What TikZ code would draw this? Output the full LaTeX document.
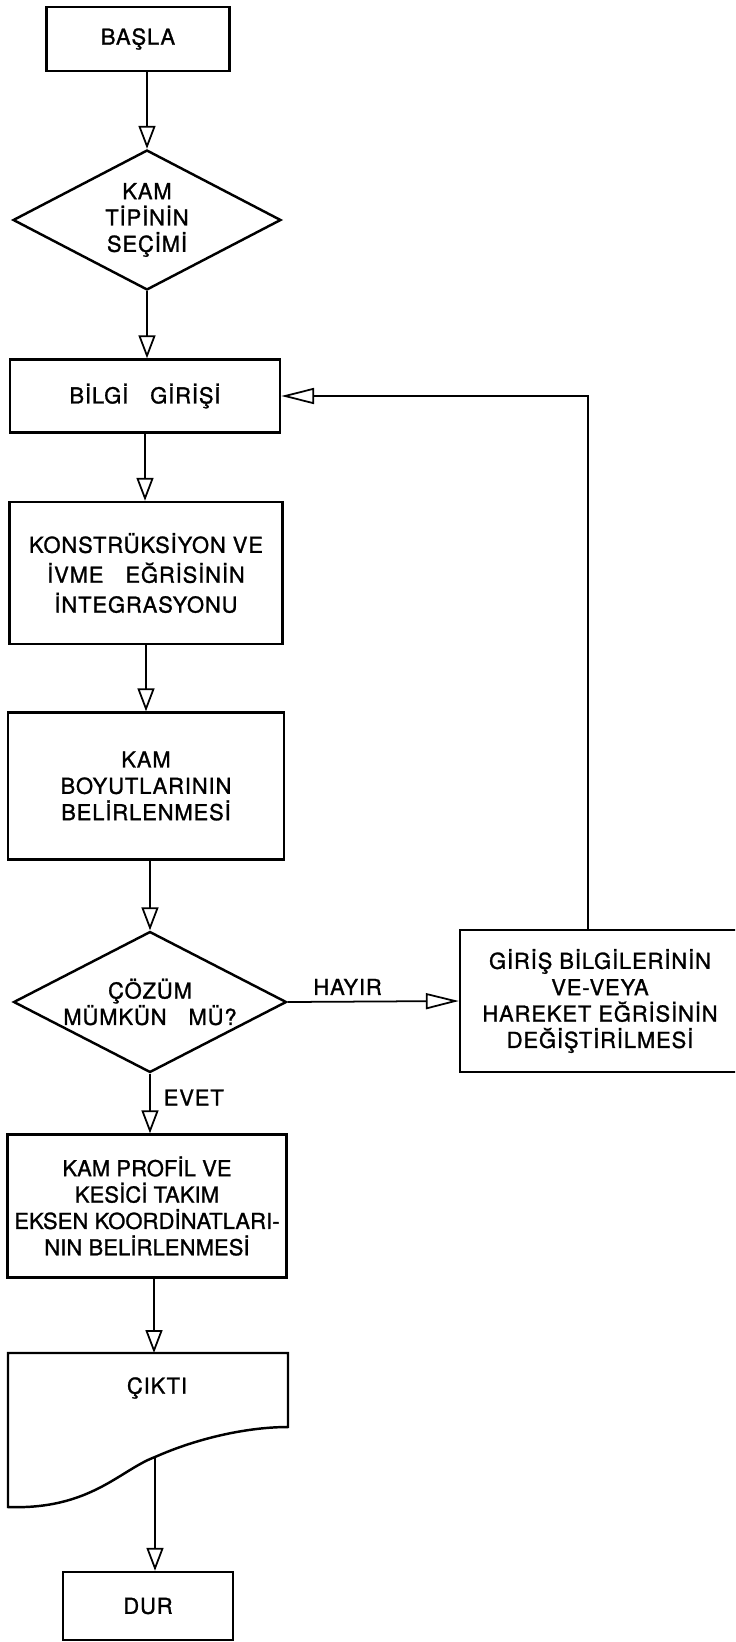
\documentclass[tikz,border=0pt]{standalone}
\usepackage{fontspec}
\newfontfamily\lettering[LetterSpace=4,FakeBold=1.2]{TeX Gyre Heros}
\newfontfamily\letteringtight[LetterSpace=0.5,FakeBold=1.2]{TeX Gyre Heros}
\usetikzlibrary{arrows.meta,shapes.geometric}

\begin{document}
\begin{tikzpicture}[
  x=0.02cm, y=-0.02cm,
  >={Triangle[open,length=0.46cm,width=0.34cm]},
  every node/.style={font=\lettering\fontsize{12.5}{15}\selectfont, align=center},
  box/.style={draw, rectangle, line width=1.4pt, inner sep=0pt},
  decision/.style={draw, diamond, aspect=2, line width=1.4pt, inner sep=0pt},
  flow/.style={line width=1pt, ->},
  side/.style={line width=1pt, -{Triangle[open,length=0.66cm,width=0.32cm]}}
]

% Frame (pixel units, y runs downwards)
\useasboundingbox (0,0) rectangle (735,1642);
\clip (0,0) rectangle (735,1642);

% --- Main column ---
\node[box, minimum width=3.66cm, minimum height=1.28cm] (start) at (138,39) {BAŞLA};
\node[decision, minimum width=5.36cm, minimum height=2.8cm] (type) at (147,220) {KAM\\TİPİNİN\\SEÇİMİ};
\node[box, minimum width=5.4cm, minimum height=1.46cm] (input) at (145,396) {BİLGİ\quad GİRİŞİ};
\node[box, minimum width=5.46cm, minimum height=2.84cm,
      font=\lettering\fontsize{12.5}{17}\selectfont] (integ) at (146,573)
      {KONSTRÜKSİYON VE\\İVME\quad EĞRİSİNİN\\İNTEGRASYONU};
\node[box, minimum width=5.52cm, minimum height=2.94cm] (dims) at (146,786) {KAM\\BOYUTLARININ\\BELİRLENMESİ};
\node[decision, minimum width=5.46cm, minimum height=2.82cm] (check) at (150,1002) {ÇÖZÜM\\MÜMKÜN\quad MÜ?};
\node[box, minimum width=5.58cm, minimum height=2.86cm,
      font=\letteringtight\fontsize{12.5}{15}\selectfont] (profile) at (147,1206)
      {KAM PROFİL VE\\KESİCİ TAKIM\\EKSEN KOORDİNATLARI-\\NIN BELİRLENMESİ};

% --- Side box (runs off the right edge) ---
\node[box, minimum width=5.6cm, minimum height=2.84cm] (change) at (600,1001)
      {GİRİŞ BİLGİLERİNİN\\VE-VEYA\\HAREKET EĞRİSİNİN\\DEĞİŞTİRİLMESİ};

% --- Output document ---
\coordinate (doctop) at (154,1353);
\coordinate (wave) at (155,1457);
\draw[line width=1.4pt] (8,1507) -- (8,1353) -- (288,1353) -- (288,1427)
  .. controls (250,1427) and (200,1437) .. (wave)
  .. controls (120,1470) and (90,1510) .. (8,1507) -- cycle;
\node (output) at (157,1388) {ÇIKTI};

\node[box, minimum width=3.4cm, minimum height=1.36cm] (stop) at (148,1606) {DUR};

% --- Connectors ---
\draw[flow] (start.south -| type.north) -- (type.north);
\draw[flow] (type.south) -- (type.south |- input.north);
\draw[flow] (input.south) -- (input.south |- integ.north);
\draw[flow] (integ.south) -- (integ.south |- dims.north);
\draw[flow] (dims.south -| check.north) -- (check.north);
\draw[flow] (check.south) -- node[right=4pt, pos=0.4] {EVET} (check.south |- profile.north);
\draw[flow] (profile.south -| doctop) -- (doctop);
\draw[flow] (wave) -- (wave |- stop.north);

% HAYIR branch and the way back
\draw[side] (check.east) -- node[above, pos=0.35] {HAYIR} (change.west);
\coordinate (back) at (588,399);
\draw[side] (change.north -| back) |- (input.east);

\end{tikzpicture}
\end{document}
